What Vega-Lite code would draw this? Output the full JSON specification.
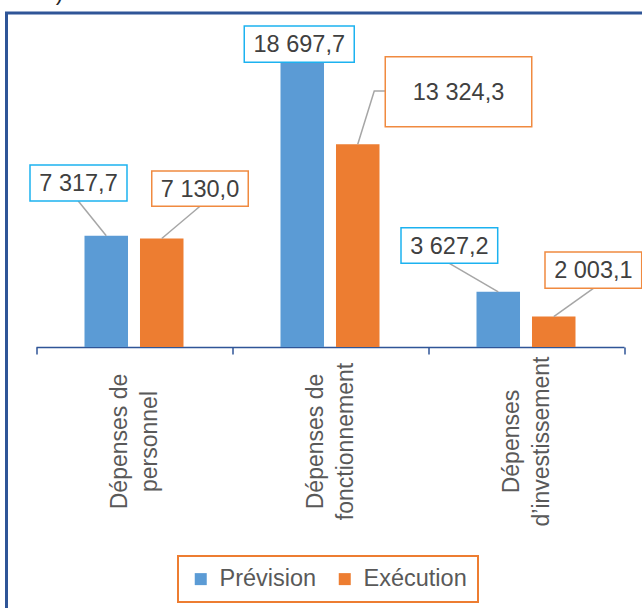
{
  "$schema": "https://vega.github.io/schema/vega-lite/v6.json",
  "autosize": {"type": "none"},
  "padding": {"left": 6.5, "top": 13, "right": -12, "bottom": -12},
  "width": 647.5,
  "height": 607,
  "background": "white",
  "title": {"text": "CFA)", "anchor": "start", "frame": "group", "offset": -10.5, "baseline": "alphabetic", "fontSize": 23.5, "font": "Liberation Sans", "fontWeight": "normal", "color": "#262626", "dx": 3.5},
  "config": {
    "view": {"stroke": "#2F5597", "strokeWidth": 3},
    "locale": {"number": {"decimal": ",", "thousands": " ", "grouping": [3], "currency": ["", ""]}}
  },
  "data": {"values": [
    {"cat": "Dépenses de personnel", "serie": "Prévision", "value": 7317.7},
    {"cat": "Dépenses de personnel", "serie": "Exécution", "value": 7130.0},
    {"cat": "Dépenses de fonctionnement", "serie": "Prévision", "value": 18697.7},
    {"cat": "Dépenses de fonctionnement", "serie": "Exécution", "value": 13324.3},
    {"cat": "Dépenses d’investissement", "serie": "Prévision", "value": 3627.2},
    {"cat": "Dépenses d’investissement", "serie": "Exécution", "value": 2003.1}
  ]},
  "encoding": {
    "x": {
      "field": "cat", "type": "nominal", "sort": null,
      "scale": {"range": [29.5, 617.5], "paddingInner": 0, "paddingOuter": 0},
      "axis": {
        "title": null, "grid": false,
        "domainColor": "#2F5597", "domainWidth": 1.5,
        "tickColor": "#2F5597", "tickWidth": 1.5, "tickSize": 7, "tickBand": "extent",
        "offset": -273,
        "labelAngle": -90, "labelAlign": "center", "labelBaseline": "middle",
        "labelPadding": 87, "labelOffset": -15, "labelFontSize": 23, "labelFont": "Liberation Sans",
        "labelColor": "#595959", "labelLineHeight": 30, "labelLimit": 0,
        "labelOverlap": false, "labelFlush": false,
        "labelExpr": "[substring(datum.label, 0, lastindexof(datum.label, ' ')), substring(datum.label, lastindexof(datum.label, ' ') + 1)]"
      }
    },
    "xOffset": {"field": "serie", "type": "nominal", "sort": ["Prévision", "Exécution"], "scale": {"paddingInner": 0.216, "paddingOuter": 0.874}},
    "y": {"field": "value", "type": "quantitative", "scale": {"domain": [-17949, 21959], "nice": false, "zero": false}, "axis": null}
  },
  "layer": [
    {
      "mark": {"type": "bar"},
      "encoding": {
        "color": {
          "field": "serie", "type": "nominal",
          "scale": {"domain": ["Prévision", "Exécution"], "range": ["#5B9BD5", "#ED7D31"]},
          "legend": {
            "orient": "none", "legendX": 171.5, "legendY": 543, "direction": "horizontal",
            "title": null, "symbolType": "square", "symbolSize": 144, "symbolStrokeWidth": 0,
            "labelFontSize": 23.5, "labelFont": "Liberation Sans", "labelColor": "#595959",
            "labelOffset": 7, "columnPadding": 16, "padding": 11,
            "strokeColor": "#ED7D31",
            "labelLimit": 0,
            "encode": {"legend": {"update": {"strokeWidth": {"value": 2}}}}
          }
        }
      }
    },
    {
      "mark": {
        "type": "point", "filled": false, "opacity": 1, "stroke": "#A6A6A6", "strokeWidth": 1.5, "size": 4,
        "shape": {"expr": "datum.serie == 'Prévision' ? (indexof(datum.cat,'personnel') >= 0 ? 'M0,0L-28,-34.7' : indexof(datum.cat,'fonctionnement') >= 0 ? 'M0,0L0,-0.1' : 'M0,0L-48.9,-28.5') : (indexof(datum.cat,'personnel') >= 0 ? 'M0,0L38.25,-32.3' : indexof(datum.cat,'fonctionnement') >= 0 ? 'M0,0L16.5,-53.3L27.5,-53.3' : 'M0,0L39.6,-28.2')"}
      }
    },
    {
      "mark": {
        "type": "point", "filled": true, "fill": "white", "opacity": 1, "strokeWidth": 1.5, "size": 4,
        "shape": {"expr": "datum.serie == 'Prévision' ? (indexof(datum.cat,'personnel') >= 0 ? 'M-76.25,-70.7L20.75,-70.7L20.75,-34.7L-76.25,-34.7Z' : indexof(datum.cat,'fonctionnement') >= 0 ? 'M-58,-36.6L52,-36.6L52,-0.3L-58,-0.3Z' : 'M-97.25,-64.1L-0.55,-64.1L-0.55,-28.5L-97.25,-28.5Z') : (indexof(datum.cat,'personnel') >= 0 ? 'M-10,-67.6L86.5,-67.6L86.5,-32.3L-10,-32.3Z' : indexof(datum.cat,'fonctionnement') >= 0 ? 'M27.5,-87.6L174,-87.6L174,-17.6L27.5,-17.6Z' : 'M-8.75,-64.5L87.95,-64.5L87.95,-28.2L-8.75,-28.2Z')"}
      },
      "encoding": {
        "stroke": {"field": "serie", "type": "nominal", "scale": {"domain": ["Prévision", "Exécution"], "range": ["#1CB2F0", "#F08A40"]}, "legend": null}
      }
    },
    {
      "mark": {
        "type": "text", "font": "Liberation Sans", "fontSize": 23.5, "color": "#404040", "align": "center", "baseline": "middle",
        "dx": {"expr": "datum.serie == 'Prévision' ? (indexof(datum.cat,'personnel') >= 0 ? -27.75 : indexof(datum.cat,'fonctionnement') >= 0 ? -3 : -48.9) : (indexof(datum.cat,'personnel') >= 0 ? 38.25 : indexof(datum.cat,'fonctionnement') >= 0 ? 100.75 : 39.6)"},
        "dy": {"expr": "1 + (datum.serie == 'Prévision' ? (indexof(datum.cat,'personnel') >= 0 ? -52.7 : indexof(datum.cat,'fonctionnement') >= 0 ? -18.45 : -46.3) : (indexof(datum.cat,'personnel') >= 0 ? -50 : indexof(datum.cat,'fonctionnement') >= 0 ? -52.6 : -46.35))"}
      },
      "encoding": {
        "text": {"field": "value", "type": "quantitative", "format": ",.1f"}
      }
    }
  ]
}
